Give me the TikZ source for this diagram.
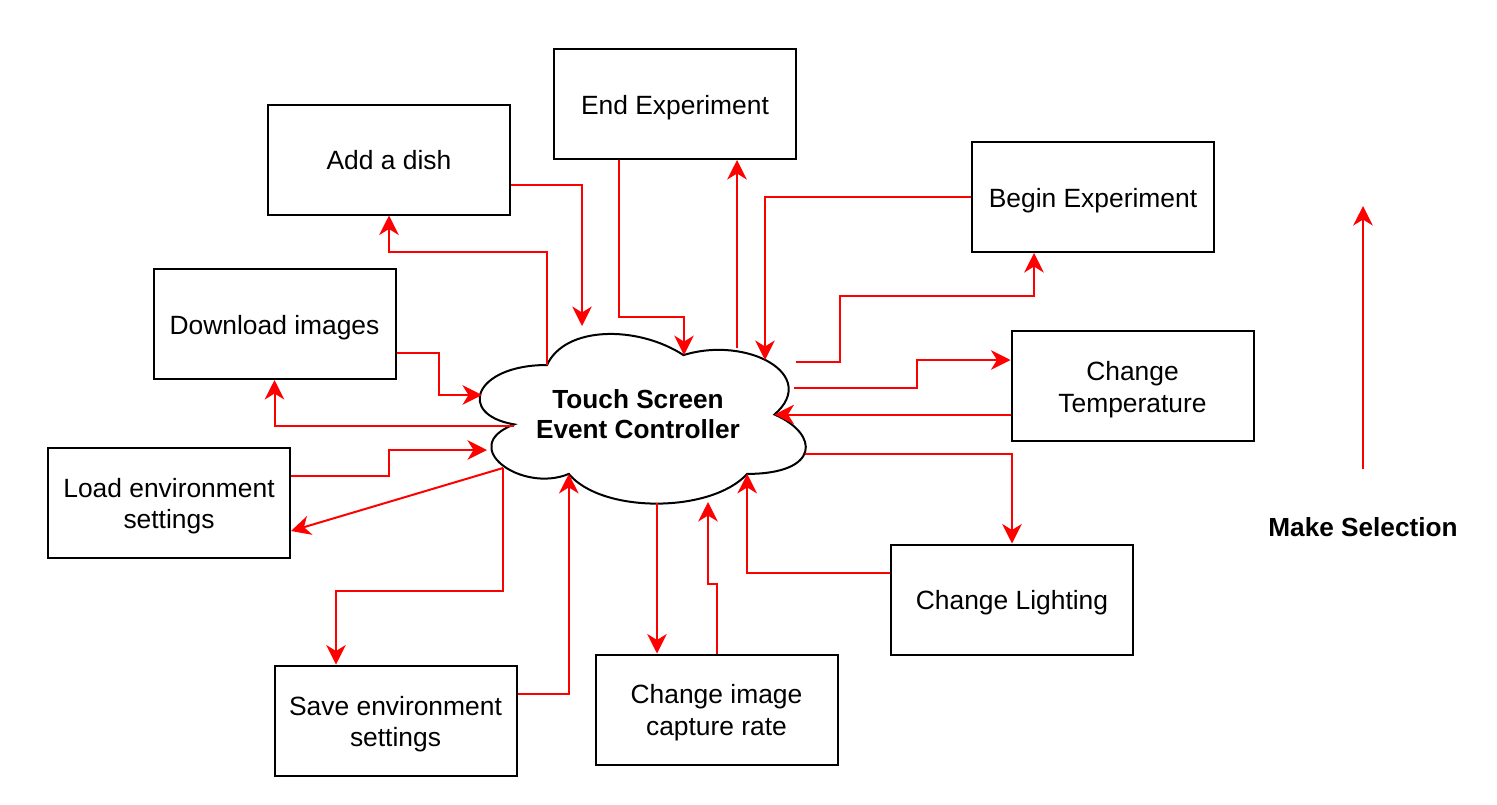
\documentclass[tikz,border=0pt]{standalone}
\usepackage{fontspec}
\setmainfont{Liberation Sans}
\usetikzlibrary{arrows.meta,calc}
\newcommand\lstrut{\rule[-4.9pt]{0pt}{30.7pt}}
\begin{document}
\begin{tikzpicture}[x=1pt,y=-1pt,
  txt/.style={font=\fontsize{26.4pt}{30.7pt}\selectfont},
  boldtxt/.style={font=\fontsize{26.2pt}{30.7pt}\selectfont\bfseries},
  box/.style={txt,draw=black,line width=2pt,fill=white,minimum width=242pt,minimum height=110pt,align=center,inner sep=0pt},
  conn/.style={draw=red,line width=2pt,-{Stealth[length=19.5pt,width=19.5pt,inset=6pt]}},
  cloudline/.style={draw=black,line width=2pt,fill=white}
  ]
\useasboundingbox (0,0) rectangle (1497,804);

% cloud outline
\path[cloudline] (547,365)
  .. controls (474.2,365) and (456,414.5) .. (514.24,424.4)
  .. controls (456,446.2) and (521.5,493.7) .. (568.8,473.9)
  .. controls (601.6,513.5) and (710.8,513.5) .. (747.2,473.9)
  .. controls (820,473.9) and (820,434.3) .. (774.5,414.5)
  .. controls (820,374.9) and (747.2,335.3) .. (683.5,355.1)
  .. controls (638,325.4) and (565.2,325.4) .. (547,365) -- cycle;
\node[boldtxt,align=center,inner sep=0pt] (ctrl) at (638,413) {\lstrut Touch Screen\\\lstrut Event Controller};

% boxes
\node[box] (add) at (389,159.5) {\lstrut Add a dish};
\node[box] (endx) at (675,104) {\lstrut End Experiment};
\node[box] (begin) at (1093,197) {\lstrut Begin Experiment};
\node[box] (down) at (274.5,324) {\lstrut Download images};
\node[box] (temp) at (1132.5,386) {\lstrut Change\\\lstrut Temperature};
\node[box] (load) at (169,502.5) {\lstrut Load environment\\\lstrut settings};
\node[box] (light) at (1012,599.5) {\lstrut Change Lighting};
\node[box] (cap) at (716.5,709.5) {\lstrut Change image\\\lstrut capture rate};
\node[box] (save) at (395.5,720.5) {\lstrut Save environment\\\lstrut settings};
\node[boldtxt,inner sep=0pt] (ms) at (1363,526) {\lstrut Make Selection};

% points on / near the cloud
\coordinate (c_tl) at (547,365);
\coordinate (c_addin) at (582,326);
\coordinate (c_endin) at (684,355.1);
\coordinate (c_endout) at (737,348);
\coordinate (c_beginin) at (765,360);
\coordinate (c_beginout) at (796,362);
\coordinate (c_tempout) at (794,388);
\coordinate (c_tempin) at (774.5,414.5);
\coordinate (c_lightout) at (805,454);
\coordinate (c_lightin) at (747.2,473.9);
\coordinate (c_capout) at (657,503);
\coordinate (c_capin) at (708,502);
\coordinate (c_savein) at (568.8,473.9);
\coordinate (c_lo) at (503,468);
\coordinate (c_loadin) at (487,450);
\coordinate (c_downin) at (482,395);
\coordinate (c_downout) at (514,426);
\coordinate (ms_start) at (1363,469);
\coordinate (ms_tip) at (1363,206);

% connectors
\draw[conn] (add.east |- 0,185) -| (c_addin);
\draw[conn] (c_tl) -- (547,252) -| (add.south);
\draw[conn] (endx.south -| 619,0) |- (684,317) -- (c_endin);
\draw[conn] (c_endout) -- (endx.south -| c_endout);
\draw[conn] (begin.west) -| (c_beginin);
\draw[conn] (c_beginout) -| (840,296) -| (begin.south -| 1034,0);
\draw[conn] (c_tempout) -| (917,360) -- (temp.west |- 0,360);
\draw[conn] (temp.west |- c_tempin) -- (c_tempin);
\draw[conn] (c_lightout) -| (light.north);
\draw[conn] (light.west |- 0,573) -| (c_lightin);
\draw[conn] (c_capout) -- (cap.north -| c_capout);
\draw[conn] (cap.north -| 717,0) -- (717,584) -| (c_capin);
\draw[conn] (save.east |- 0,694) -| (c_savein);
\draw[conn] (c_lo) -- (503,591) -| (save.north -| 336,0);
\draw[conn] (load.east |- 0,476) -| (389,450) -- (c_loadin);
\draw[conn] (c_lo) -- (load.east |- 0,531);
\draw[conn] (down.east |- 0,353) -| (439,395) -- (c_downin);
\draw[conn] (c_downout) -| (down.south);
\draw[conn] (ms_start) -- (ms_tip);
\end{tikzpicture}
\end{document}
